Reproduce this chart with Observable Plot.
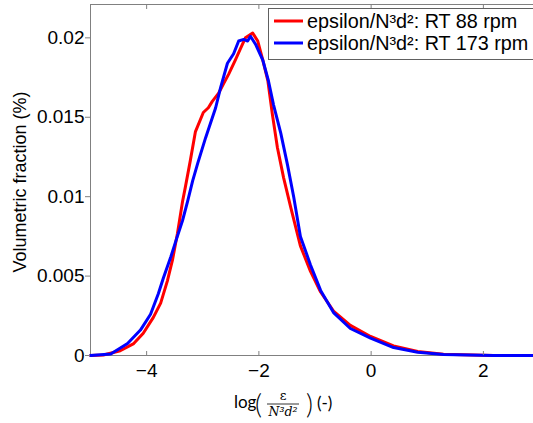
<!DOCTYPE html>
<html>
<head>
<meta charset="utf-8">
<script src="https://cdn.jsdelivr.net/npm/d3@7"></script>
<script src="https://cdn.jsdelivr.net/npm/@observablehq/plot@0.6"></script>
<style>
  html, body { margin: 0; padding: 0; background: #fff; }
  #wrap { position: relative; width: 533px; height: 423px; overflow: hidden; }
  #wrap svg { max-width: none !important; }
</style>
</head>
<body>
<div id="wrap"></div>
<script>
// ---- data ----
const seriesNames = ["epsilon/N³d²: RT 88 rpm", "epsilon/N³d²: RT 173 rpm"];
const seriesColors = ["#ff0000", "#0000ff"];

const xRed = [-5, -4.77, -4.47, -4.23, -4.06, -3.88, -3.75, -3.63, -3.54, -3.45, -3.36, -3.31, -3.22, -3.13, -2.99, -2.90, -2.83, -2.72, -2.63, -2.54, -2.42, -2.33, -2.24, -2.11, -2.02, -1.93, -1.84, -1.76, -1.67, -1.56, -1.43, -1.26, -1.08, -0.90, -0.67, -0.37, -0.01, 0.40, 0.83, 1.29, 2.18, 3.0];
const yRed = [0, 0.00003, 0.0003, 0.00075, 0.0014, 0.0024, 0.0033, 0.0047, 0.0060, 0.0077, 0.0097, 0.0106, 0.0123, 0.0141, 0.0153, 0.0156, 0.0160, 0.0165, 0.0171, 0.0177, 0.0186, 0.0193, 0.0200, 0.0203, 0.0198, 0.0186, 0.0173, 0.0152, 0.0131, 0.0112, 0.0093, 0.0069, 0.0053, 0.0040, 0.0028, 0.0019, 0.0012, 0.0006, 0.00025, 0.00008, 0, 0];

const xBlue = [-5, -4.64, -4.34, -4.11, -3.93, -3.79, -3.70, -3.57, -3.48, -3.36, -3.27, -3.18, -3.09, -2.95, -2.77, -2.68, -2.56, -2.45, -2.36, -2.27, -2.20, -2.15, -2.06, -1.93, -1.83, -1.74, -1.61, -1.49, -1.38, -1.26, -1.08, -0.90, -0.67, -0.37, -0.01, 0.40, 0.83, 1.29, 2.18, 3.0];
const yBlue = [0, 0.0001, 0.00075, 0.0016, 0.0026, 0.0039, 0.0049, 0.0062, 0.0072, 0.0085, 0.0097, 0.0110, 0.0121, 0.0137, 0.0156, 0.0169, 0.0184, 0.0190, 0.0198, 0.0199, 0.0198, 0.0201, 0.0196, 0.0186, 0.0173, 0.0158, 0.0140, 0.0120, 0.0100, 0.0075, 0.0057, 0.0041, 0.0027, 0.0017, 0.0011, 0.0005, 0.0002, 0.00006, 0, 0];

const xTicks = [-4, -2, 0, 2];
const yTicks = [0, 0.005, 0.01, 0.015, 0.02];
const yLabel = "Volumetric fraction (%)";

// ---- build tables ----
const red = xRed.map((x, i) => ({x, y: yRed[i]}));
const blue = xBlue.map((x, i) => ({x, y: yBlue[i]}));

const chart = Plot.plot({
  width: 545,
  height: 423,
  marginLeft: 90,
  marginRight: 6,
  marginTop: 4,
  marginBottom: 68,
  style: {fontFamily: "'Liberation Sans', Arial, sans-serif", fontSize: "19px", color: "#000", background: "#fff", maxWidth: "none"},
  x: {domain: [-5, 3]},
  y: {domain: [0, 0.0221]},
  marks: [
    Plot.frame({stroke: "#808080"}),
    Plot.line(red, {x: "x", y: "y", stroke: seriesColors[0], strokeWidth: 3}),
    Plot.line(blue, {x: "x", y: "y", stroke: seriesColors[1], strokeWidth: 3}),
    Plot.axisX(xTicks, {anchor: "bottom", tickSize: 0, tickPadding: 8, label: null, fill: "#000", fontSize: 19}),
    Plot.axisX(xTicks, {anchor: "bottom", tickSize: -4, text: null, label: null, stroke: "#808080"}),
    Plot.axisX(xTicks, {anchor: "top", tickSize: -4, text: null, label: null, stroke: "#808080"}),
    Plot.axisY(yTicks, {anchor: "left", tickSize: 5, tickPadding: 1, label: null, stroke: "#808080", fill: "#000", fontSize: 19,
      tickFormat: d => d === 0 ? "0" : String(d)})
  ]
});

document.getElementById("wrap").appendChild(chart);

const svg = d3.select(chart);

// y label
svg.append("text")
  .attr("transform", "translate(20,182) rotate(-90)")
  .attr("text-anchor", "middle")
  .attr("dominant-baseline", "central")
  .attr("font-family", "'Liberation Sans', Arial, sans-serif")
  .attr("font-size", 18)
  .attr("fill", "#000")
  .text(yLabel);

// x label: log( ε / N³d² ) (-)
const sans = "Lato, 'Open Sans', sans-serif";
const serif = "'DejaVu Serif', 'Liberation Serif', serif";
const xl = svg.append("g").attr("fill", "#000").attr("text-anchor", "start");
xl.append("text").attr("x", 234).attr("y", 408).attr("font-family", sans).attr("font-size", 17).text("log");
xl.append("text").attr("x", 255).attr("y", 414).attr("font-family", sans).attr("font-size", 27).attr("font-weight", 300).text("(");
xl.append("text").attr("x", 283).attr("y", 400).attr("text-anchor", "middle").attr("font-family", serif).attr("font-size", 13).text("ε");
xl.append("line").attr("x1", 267).attr("x2", 299).attr("y1", 404).attr("y2", 404).attr("stroke", "#000").attr("stroke-width", 0.8);
xl.append("text").attr("x", 283).attr("y", 416).attr("text-anchor", "middle").attr("font-family", serif).attr("font-style", "italic").attr("font-size", 12.5).text("N³d²");
xl.append("text").attr("x", 306).attr("y", 414).attr("font-family", sans).attr("font-size", 27).attr("font-weight", 300).text(")");
xl.append("text").attr("x", 317).attr("y", 409).attr("font-family", sans).attr("font-size", 17).text("(-)");

// legend
const lg = svg.append("g").attr("text-anchor", "start");
lg.append("rect").attr("x", 268.5).attr("y", 8.5).attr("width", 300).attr("height", 51)
  .attr("fill", "#fff").attr("stroke", "#606060").attr("stroke-width", 1);
seriesNames.forEach((name, i) => {
  const cy = 21 + i * 22;
  lg.append("line").attr("x1", 274).attr("x2", 303).attr("y1", cy).attr("y2", cy)
    .attr("stroke", seriesColors[i]).attr("stroke-width", 3);
  lg.append("text").attr("x", 307).attr("y", cy).attr("dominant-baseline", "central")
    .attr("font-family", "'Liberation Sans', Arial, sans-serif").attr("font-size", 19.8).attr("fill", "#000")
    .text(name);
});
</script>
</body>
</html>
